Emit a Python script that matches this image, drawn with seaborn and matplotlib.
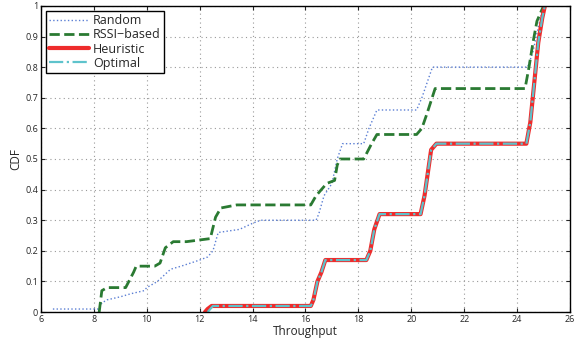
import pandas as pd
import seaborn as sns
import matplotlib.pyplot as plt

# CDF data
random_x = [6.45, 8.2, 8.3, 8.5, 9.0, 9.4, 9.9, 10.0, 10.4, 10.9, 11.3, 12.0, 12.3, 12.5, 12.7,
            13.5, 14.0, 14.3, 16.4, 16.5, 16.7, 17.0, 17.2, 17.4, 18.2, 18.4, 18.7, 20.2, 20.4,
            20.6, 20.8, 24.4, 24.6, 24.8, 25.0]
random_y = [0.01, 0.01, 0.03, 0.04, 0.05, 0.06, 0.07, 0.08, 0.10, 0.14, 0.15, 0.17, 0.18, 0.20, 0.26,
            0.27, 0.29, 0.30, 0.30, 0.32, 0.38, 0.42, 0.50, 0.55, 0.55, 0.60, 0.66, 0.66, 0.70,
            0.75, 0.80, 0.80, 0.85, 0.93, 1.0]

rssi_x = [8.2, 8.3, 8.5, 9.2, 9.5, 9.6, 10.3, 10.5, 10.7, 11.0, 11.5, 12.4, 12.6, 12.8, 13.4,
          16.2, 16.4, 16.8, 17.1, 17.2, 17.3, 18.2, 18.5, 18.7, 20.2, 20.4, 20.6, 20.9, 24.3,
          24.45, 24.6, 24.75, 25.0]
rssi_y = [0.0, 0.07, 0.08, 0.08, 0.13, 0.15, 0.15, 0.16, 0.21, 0.23, 0.23, 0.24, 0.31, 0.34, 0.35,
          0.35, 0.38, 0.42, 0.43, 0.48, 0.50, 0.50, 0.55, 0.58, 0.58, 0.60, 0.65, 0.73, 0.73,
          0.80, 0.88, 0.95, 1.0]

heur_x = [12.2, 12.3, 12.45, 16.2, 16.3, 16.45, 16.6, 16.75, 18.3, 18.45, 18.6, 18.8, 20.35,
          20.5, 20.6, 20.75, 20.95, 24.35, 24.5, 24.65, 24.8, 24.95, 25.05]
heur_y = [0.0, 0.01, 0.02, 0.02, 0.04, 0.10, 0.13, 0.17, 0.17, 0.20, 0.27, 0.32, 0.32,
          0.38, 0.44, 0.53, 0.55, 0.55, 0.62, 0.75, 0.88, 0.96, 1.0]

opt_x = [12.3, 12.4, 12.5, 16.2, 16.3, 16.45, 16.6, 16.75, 18.3, 18.45, 18.6, 18.8, 20.35,
         20.5, 20.6, 20.75, 20.95, 24.35, 24.5, 24.65, 24.8, 24.95, 25.05]
opt_y = [0.0, 0.01, 0.02, 0.02, 0.04, 0.10, 0.13, 0.17, 0.17, 0.20, 0.27, 0.32, 0.32,
         0.38, 0.44, 0.53, 0.55, 0.55, 0.62, 0.75, 0.88, 0.96, 1.0]

sns.set_style("ticks")
plt.rcParams['font.family'] = ['Open Sans', 'DejaVu Sans']

fig = plt.figure(figsize=(5.75, 3.46), dpi=100)
ax = fig.add_axes([0.0713, 0.098, 0.92, 0.885])

series = [
    ('Random', random_x, random_y, dict(color='#5b7fd4', linestyle=':', linewidth=1.0)),
    ('RSSI\u2212based', rssi_x, rssi_y, dict(color='#2a7a32', linestyle='--', linewidth=2.0, dashes=(4, 2.5))),
    ('Heuristic', heur_x, heur_y, dict(color='#ee2c2c', linestyle='-', linewidth=3.0)),
    ('Optimal', opt_x, opt_y, dict(color='#5ec3cc', linestyle='-.', linewidth=1.6)),
]
for name, xs, ys, style in series:
    df = pd.DataFrame({'x': xs, 'y': ys})
    sns.lineplot(data=df, x='x', y='y', sort=False, estimator=None, ax=ax, label=name, **style)

ax.set_xlim(6, 26)
ax.set_ylim(0, 1)
ax.set_xticks(range(6, 27, 2))
ax.set_yticks([i / 10 for i in range(11)])
ax.set_yticklabels(['0'] + ['%.1f' % (i / 10) for i in range(1, 10)] + ['1'])
ax.tick_params(direction='in', labelsize=6.5, length=3, top=True, right=True, pad=2)
ax.grid(True, linestyle=(0, (1, 3)), color='#999999', linewidth=0.8)
for s in ax.spines.values():
    s.set_color('black')
    s.set_linewidth(1.0)
ax.set_xlabel('Throughput', fontsize=8.5, labelpad=1)
ax.set_ylabel('CDF', fontsize=8.5, labelpad=2)

leg = ax.legend(loc='upper left', fontsize=9, frameon=True, fancybox=False, edgecolor='black',
                framealpha=1, borderpad=0.25, labelspacing=0.1, handlelength=3.2,
                handletextpad=0.3, borderaxespad=0.4)
leg.get_frame().set_linewidth(1.0)

plt.savefig('out.png', dpi=100)
